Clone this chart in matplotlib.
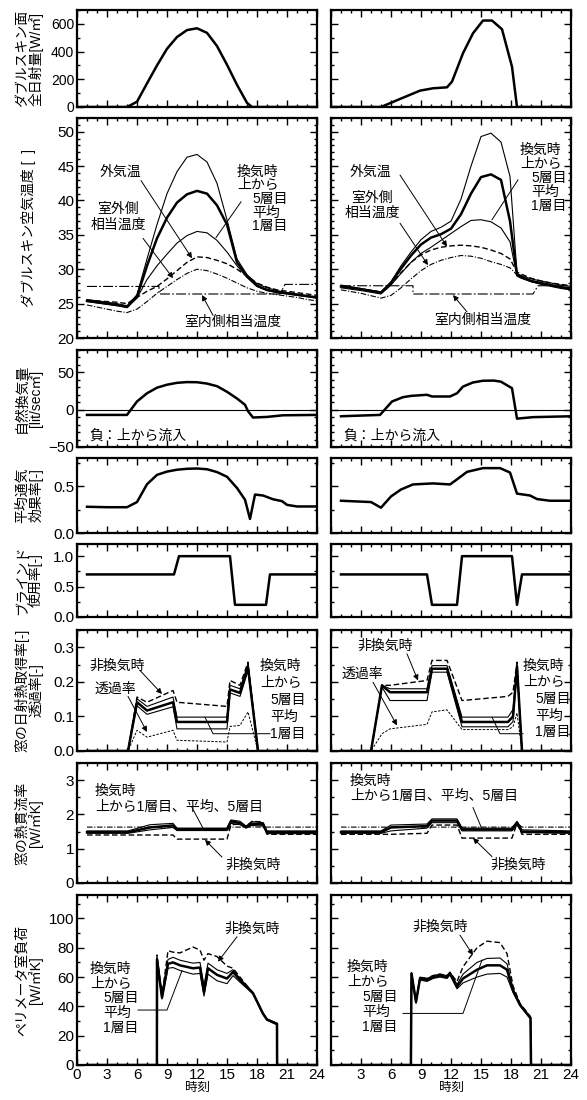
import matplotlib
matplotlib.use("Agg")
import matplotlib.pyplot as plt
from matplotlib.ticker import MultipleLocator

plt.rcParams['font.family'] = ['Liberation Sans', 'Noto Sans CJK JP']

# ---------------- data (hour, value) ----------------
# row 1 : solar radiation on double skin
sol_L_t = [0, 5, 6, 7, 8, 9, 10, 11, 12, 13, 14, 15, 16, 17, 17.5, 24]
sol_L = [0, 0, 38, 170, 300, 420, 505, 555, 568, 535, 440, 305, 160, 30, 0, 0]
sol_R_t = [0, 5, 6.9, 8.9, 10.2, 11.6, 12.1, 13.2, 14.2, 15.2, 16.1, 17.1, 18.1, 18.6, 24]
sol_R = [0, 0, 58, 118, 135, 142, 183, 388, 532, 624, 624, 561, 291, 0, 0]

# row 2 : air temperature in double skin
tmp_L_t = list(range(1, 25))
tmp_L_top = [25.6, 25.4, 25.2, 25.0, 24.7, 26.3, 31.5, 36.5, 41.0, 44.2, 46.3, 46.7,
             45.6, 42.5, 37.2, 31.5, 29.2, 27.9, 27.3, 26.9, 26.6, 26.4, 26.1, 25.9]
tmp_L_avg = [25.4, 25.2, 25.0, 24.8, 24.5, 26.0, 30.5, 34.5, 37.5, 39.7, 40.9, 41.4,
             41.0, 39.3, 36.5, 31.0, 29.0, 27.6, 27.0, 26.7, 26.5, 26.3, 26.1, 25.9]
tmp_L_low = [25.3, 25.1, 24.9, 24.7, 24.5, 25.8, 28.5, 30.5, 32.2, 33.8, 34.9, 35.5,
             35.3, 34.2, 32.5, 30.5, 28.8, 27.5, 26.9, 26.6, 26.4, 26.2, 26.0, 25.8]
tmp_L_out = [25.5, 25.4, 25.3, 25.2, 25.0, 25.9, 26.8, 27.5, 28.6, 29.8, 31.0, 31.8,
             31.7, 31.3, 30.8, 30.0, 29.0, 28.0, 27.4, 27.0, 26.8, 26.6, 26.4, 26.2]
tmp_L_sol = [24.8, 24.5, 24.2, 23.9, 23.7, 24.2, 25.3, 26.5, 27.5, 28.5, 29.4, 30.0,
             29.8, 29.3, 28.7, 28.0, 27.3, 26.8, 26.5, 26.3, 26.1, 25.9, 25.6, 25.4]
tin_L_t = [1, 8.2, 8.2, 20.3, 20.8, 24]
tin_L = [27.5, 27.5, 26.4, 26.4, 27.8, 27.8]

tmp_R_t = [1, 3, 5, 6, 7, 8, 9, 10, 11, 12, 13, 14, 15, 16, 17, 17.9, 18.6, 19, 20, 21, 22, 23, 24]
tmp_R_top = [27.7, 27.2, 26.7, 28.2, 30.5, 32.5, 34.3, 35.5, 36.1, 37.0, 40.2, 45.0,
             49.3, 49.8, 48.5, 43.5, 29.4, 29.1, 28.6, 28.3, 28.0, 27.7, 27.5]
tmp_R_avg = [27.5, 27.1, 26.6, 28.0, 30.1, 32.0, 33.6, 34.6, 35.1, 35.9, 38.0, 41.0,
             43.4, 43.8, 43.0, 37.0, 29.2, 28.9, 28.3, 28.0, 27.7, 27.4, 27.2]
tmp_R_low = [27.3, 26.9, 26.4, 27.7, 29.4, 31.0, 32.3, 33.2, 34.2, 35.2, 36.2, 37.1,
             37.2, 36.9, 36.0, 34.0, 29.0, 28.7, 28.2, 27.8, 27.5, 27.2, 27.0]
tmp_R_out = [27.5, 27.1, 26.7, 27.8, 29.5, 31.0, 32.1, 32.8, 33.2, 33.4, 33.5, 33.4,
             33.2, 32.8, 32.3, 31.5, 29.6, 29.3, 28.7, 28.3, 28.0, 27.8, 27.6]
tmp_R_sol = [27.0, 26.5, 25.8, 26.2, 27.3, 28.6, 29.8, 30.7, 31.3, 31.7, 32.0, 31.9,
             31.6, 31.1, 30.7, 30.2, 29.2, 28.8, 28.2, 27.9, 27.6, 27.3, 27.0]
tin_R_t = [1, 8.2, 8.2, 20.2, 20.7, 24]
tin_R = [27.6, 27.6, 26.4, 26.4, 27.6, 27.6]

# row 3 : natural ventilation rate
vent_L_t = [1, 5, 6, 7, 8, 9, 10, 11, 12, 13, 14, 15, 16, 16.8, 17.1, 17.6, 19, 20.6, 24]
vent_L = [-7, -7, 11, 22, 29.5, 33.5, 36, 37, 36.8, 35, 31.5, 24, 15, 6.6, -2, -10.5, -9.7, -7.5, -7]
vent_R_t = [1, 4.9, 6.1, 7.2, 8, 9.6, 10.1, 11.9, 12.6, 13.2, 14.2, 15.2, 16.3, 17, 18.1, 18.6, 20.2, 24]
vent_R = [-8.8, -7, 11, 16.8, 18.5, 20, 17.7, 17.7, 22, 31, 36.5, 38.8, 39, 37.5, 28.8, -12, -10, -8.8]

# row 4 : mean ventilation efficiency
eff_L_t = [1, 3, 5, 6, 7, 8, 9, 10, 11, 12, 13, 14, 15, 16, 16.8, 17.3, 17.8, 18.6, 19.6, 20.5, 21, 22, 24]
eff_L = [0.28, 0.275, 0.275, 0.33, 0.52, 0.62, 0.655, 0.675, 0.685, 0.688, 0.68, 0.65,
         0.6, 0.48, 0.355, 0.15, 0.41, 0.4, 0.36, 0.34, 0.3, 0.283, 0.283]
eff_R_t = [1, 4, 5, 6, 7, 8.2, 10.2, 11.9, 12.6, 13.6, 15.2, 16.9, 17.9, 18.6, 19.9, 20.6, 21.9, 24]
eff_R = [0.344, 0.33, 0.27, 0.39, 0.464, 0.518, 0.529, 0.518, 0.572, 0.652, 0.692, 0.692,
         0.645, 0.42, 0.4, 0.362, 0.344, 0.344]

# row 5 : blind usage
bl_L_t = [1, 9.7, 10.2, 15.3, 15.8, 18.9, 19.3, 24]
bl_L = [0.7, 0.7, 1, 1, 0.2, 0.2, 0.7, 0.7]
bl_R_t = [1, 9.6, 10.1, 12.6, 13.1, 18.1, 18.6, 19.1, 24]
bl_R = [0.7, 0.7, 0.2, 0.2, 1, 1, 0.2, 0.7, 0.7]

# row 6 : solar heat gain / transmittance
sh_L_t = [1, 5.1, 6, 7, 9.6, 10, 15, 15.3, 16.3, 17.1, 18.1, 24]
sh_L_non = [0, 0, 0.156, 0.141, 0.175, 0.141, 0.129, 0.204, 0.19, 0.257, 0, 0]
sh_L_top = [0, 0, 0.151, 0.129, 0.156, 0.098, 0.098, 0.19, 0.18, 0.252, 0, 0]
sh_L_avg = [0, 0, 0.141, 0.117, 0.141, 0.084, 0.084, 0.178, 0.168, 0.242, 0, 0]
sh_L_low = [0, 0, 0.131, 0.106, 0.128, 0.064, 0.064, 0.168, 0.158, 0.232, 0, 0]
tr_L = [0, 0, 0.06, 0.04, 0.06, 0.031, 0.026, 0.071, 0.074, 0.113, 0, 0]
sh_R_t = [1, 4, 5.1, 5.9, 9.6, 10.1, 11.6, 13.1, 17.7, 18.2, 18.6, 19.1, 24]
sh_R_non = [0, 0, 0.19, 0.19, 0.204, 0.262, 0.262, 0.146, 0.158, 0.17, 0.257, 0, 0]
sh_R_top = [0, 0, 0.19, 0.18, 0.18, 0.247, 0.247, 0.098, 0.098, 0.12, 0.25, 0, 0]
sh_R_avg = [0, 0, 0.19, 0.17, 0.17, 0.238, 0.238, 0.084, 0.084, 0.1, 0.245, 0, 0]
sh_R_low = [0, 0, 0.185, 0.146, 0.146, 0.228, 0.228, 0.07, 0.07, 0.085, 0.235, 0, 0]
tr_R = [0, 0, 0.05, 0.064, 0.077, 0.113, 0.119, 0.062, 0.062, 0.07, 0.11, 0, 0]

# row 7 : window U-value
u_L_t = [1, 5.1, 7.3, 9.6, 10, 15, 15.4, 16.3, 16.9, 17.5, 18.6, 19, 24]
u_L_top = [1.52, 1.52, 1.7, 1.74, 1.6, 1.6, 1.84, 1.8, 1.66, 1.79, 1.76, 1.52, 1.52]
u_L_avg = [1.48, 1.48, 1.62, 1.68, 1.57, 1.57, 1.8, 1.75, 1.63, 1.73, 1.71, 1.48, 1.48]
u_L_low = [1.45, 1.45, 1.55, 1.62, 1.53, 1.53, 1.74, 1.7, 1.6, 1.68, 1.66, 1.44, 1.44]
u_L_non = [1.4, 1.4, 1.4, 1.4, 1.28, 1.28, 1.7, 1.72, 1.65, 1.8, 1.78, 1.42, 1.42]
u_L_dd = [1.63, 1.63, 1.63, 1.63, 1.55, 1.55, 1.63, 1.63, 1.63, 1.63, 1.63, 1.63, 1.63]
u_R_t = [1, 5, 6, 9.6, 10.1, 12.6, 13.1, 18.1, 18.6, 19.1, 24]
u_R_top = [1.52, 1.52, 1.69, 1.72, 1.87, 1.87, 1.6, 1.6, 1.8, 1.55, 1.52]
u_R_avg = [1.48, 1.48, 1.62, 1.66, 1.82, 1.82, 1.56, 1.56, 1.76, 1.5, 1.48]
u_R_low = [1.45, 1.45, 1.52, 1.6, 1.76, 1.76, 1.52, 1.52, 1.7, 1.47, 1.45]
u_R_non = [1.42, 1.42, 1.42, 1.45, 1.69, 1.69, 1.31, 1.31, 1.74, 1.42, 1.42]
u_R_dd = [1.63, 1.63, 1.63, 1.63, 1.63, 1.63, 1.63, 1.63, 1.75, 1.63, 1.63]

# row 8 : perimeter load
pl_L_t = [1, 7.99, 8.0, 8.5, 9.1, 9.6, 10.3, 11.6, 12.3, 12.7, 13.1, 14.0, 15.0, 15.6,
          16.3, 17.6, 18.6, 19.0, 20.0, 20.01, 24]
pl_L_avg = [0, 0, 72, 46, 69, 70, 68, 66, 66.5, 50, 66, 61.5, 59, 63.5, 58, 49, 35, 31, 28, 0, 0]
pl_L_top = [0, 0, 73, 48, 72, 73.5, 71.5, 69.5, 70, 54, 69.5, 65, 62.5, 65, 59, 49.5, 35.5, 31.5, 28.5, 0, 0]
pl_L_low = [0, 0, 70, 45, 66, 66.5, 64.5, 62, 62.5, 47, 62, 57.5, 55.5, 61, 56.5, 48.5, 34.5, 30.5, 27.5, 0, 0]
pl_L_non = [0, 0, 75, 47.5, 78, 77, 76.5, 80.5, 78.4, 71.5, 76, 74, 67.5, 66, 60, 49, 35.2, 31, 28.4, 0, 0]
pl_R_t = [1, 7.99, 8.05, 8.5, 8.9, 9.6, 10.2, 10.9, 11.6, 11.9, 12.6, 13.2, 14.6, 15.6,
          16.9, 17.6, 18.2, 18.9, 19.95, 20.0, 24]
pl_R_avg = [0, 0, 62.5, 43, 59, 58, 60, 61, 60, 62.5, 53.4, 59, 65, 68, 68, 65, 51, 41, 32, 0, 0]
pl_R_top = [0, 0, 63, 44, 60, 59, 61, 62, 61, 63.5, 55, 62, 70, 72.7, 73, 69, 52, 41.5, 32.5, 0, 0]
pl_R_low = [0, 0, 62, 42, 58, 57, 59, 60, 59, 61.5, 52, 56, 60, 62, 62.5, 60, 49.5, 40.5, 31.5, 0, 0]
pl_R_non = [0, 0, 62.5, 43.5, 60, 59, 61, 62, 61, 63, 57, 67, 80, 84.5, 83.5, 76, 54, 42, 33, 0, 0]

ylabels = ["ダブルスキン面\n全日射量[W/㎡]", "ダブルスキン空気温度 [  ]",
           "自然換気量\n[lit/sec㎡]", "平均通気\n効果率[-]", "ブラインド\n使用率[-]",
           "窓の日射熱取得率[-]\n透過率[-]", "窓の熱貫流率\n[W/㎡K]", "ペリメータ室負荷\n[W/㎡K]"]
ylims = [(0, 700), (20, 52), (-50, 80), (0, 0.8), (0, 1.2), (0, 0.35), (0, 3.5), (0, 116)]
ymaj = [200, 5, 50, 0.5, 0.5, 0.1, 1, 20]
ymin = [100, 1, 10, 0.25, 0.25, 0.05, 0.5, 10]
xticks = [0, 3, 6, 9, 12, 15, 18, 21, 24]

# ---------------- layout ----------------
W, H = 587, 1100
fig = plt.figure(figsize=(W / 100, H / 100), dpi=100)
rows = [(10, 107), (118, 338), (350, 447), (458, 533), (544, 617), (630, 751), (763, 883), (895, 1065)]
cols = [(77, 317), (331, 571)]

THICK = dict(color='k', lw=1.8)
THIN = dict(color='k', lw=0.8)
DASH = dict(color='k', lw=1.0, dashes=(4, 2))
FDASH = dict(color='k', lw=0.7, dashes=(2.5, 1.5))
DDOT = dict(color='k', lw=0.8, dashes=(5, 1.5, 1, 1.5))
LDDOT = dict(color='k', lw=0.8, dashes=(9, 2, 1.5, 2))
FS = 10
ARW = dict(arrowstyle='-|>', color='k', lw=0.7, mutation_scale=8, shrinkA=0, shrinkB=0)

axes = {}
for r, (top, bot) in enumerate(rows):
    for c, (x0, x1) in enumerate(cols):
        ax = fig.add_axes([x0 / W, 1 - bot / H, (x1 - x0) / W, (bot - top) / H])
        ax.set_xlim(0, 24)
        ax.set_ylim(*ylims[r])
        ax.xaxis.set_major_locator(MultipleLocator(3))
        ax.xaxis.set_minor_locator(MultipleLocator(1))
        ax.yaxis.set_major_locator(MultipleLocator(ymaj[r]))
        ax.yaxis.set_minor_locator(MultipleLocator(ymin[r]))
        ax.tick_params(which='both', direction='in', top=True, right=True, width=1)
        ax.tick_params(which='major', length=5, labelsize=10 if r == 0 else 11, pad=2)
        ax.tick_params(which='minor', length=2.5)
        for s in ax.spines.values():
            s.set_linewidth(1.6)
        if c == 1:
            ax.set_yticklabels([])
        else:
            ax.text(-0.2, 0.5, ylabels[r], transform=ax.transAxes, rotation=90,
                    ha='center', va='center', ma='center', fontsize=10, linespacing=0.95)
        if r < 7:
            ax.set_xticklabels([])
        else:
            ax.set_xticks(xticks)
            ax.set_xticklabels([str(v) for v in xticks] if c == 0 else [''] + [str(v) for v in xticks[1:]])
            ax.set_xlabel("時刻", fontsize=9, labelpad=0)
        axes[(r, c)] = ax


def vent_block(ax, x, y, step, indent):
    for i, s in enumerate(['換気時', '上から', '5層目', '平均', '1層目']):
        dx = 0 if i < 2 else indent
        ax.annotate(s, (x, y), xytext=(dx * 0.72, -i * step * 0.72), textcoords='offset points',
                    ha='left', va='center', fontsize=FS)


def arrow(ax, start, end):
    ax.annotate('', xy=end, xytext=start, arrowprops=ARW)


# row 1
axes[(0, 0)].plot(sol_L_t, sol_L, **THICK)
axes[(0, 1)].plot(sol_R_t, sol_R, **THICK)

# row 2
ax = axes[(1, 0)]
ax.plot(tmp_L_t, tmp_L_top, **THIN)
ax.plot(tmp_L_t, tmp_L_avg, **THICK)
ax.plot(tmp_L_t, tmp_L_low, **THIN)
ax.plot(tmp_L_t, tmp_L_out, **DASH)
ax.plot(tmp_L_t, tmp_L_sol, **DDOT)
ax.plot(tin_L_t, tin_L, **LDDOT)
ax.text(4.3, 44.2, "外気温", ha='center', va='center', fontsize=FS)
arrow(ax, (6.4, 42.9), (11.5, 31.6))
ax.text(4.1, 37.6, "室外側\n相当温度", ha='center', va='center', fontsize=FS, linespacing=1.1)
arrow(ax, (6.6, 34.5), (9.6, 28.7))
ax.text(15.6, 22.4, "室内側相当温度", ha='center', va='center', fontsize=FS)
arrow(ax, (13.6, 23.3), (12.5, 26.25))
vent_block(ax, 16.0, 44.2, 13.7, 15)
ax.plot([16.4, 13.9], [39.8, 34.6], **dict(color='k', lw=0.7))

ax = axes[(1, 1)]
ax.plot(tmp_R_t, tmp_R_top, **THIN)
ax.plot(tmp_R_t, tmp_R_avg, **THICK)
ax.plot(tmp_R_t, tmp_R_low, **THIN)
ax.plot(tmp_R_t, tmp_R_out, **DASH)
ax.plot(tmp_R_t, tmp_R_sol, **DDOT)
ax.plot(tin_R_t, tin_R, **LDDOT)
ax.text(3.9, 44.2, "外気温", ha='center', va='center', fontsize=FS)
arrow(ax, (6.9, 43.7), (11.6, 33.3))
ax.text(4.1, 39.3, "室外側\n相当温度", ha='center', va='center', fontsize=FS, linespacing=1.1)
arrow(ax, (6.9, 36.7), (9.7, 30.6))
ax.text(15.2, 22.6, "室内側相当温度", ha='center', va='center', fontsize=FS)
arrow(ax, (13.6, 23.8), (12.2, 26.25))
vent_block(ax, 18.9, 47.3, 14, 11)
ax.plot([18.7, 16.1], [43.0, 37.2], color='k', lw=0.7)

# row 3
for c, (t, v) in enumerate([(vent_L_t, vent_L), (vent_R_t, vent_R)]):
    ax = axes[(2, c)]
    ax.axhline(0, color='k', lw=0.8)
    ax.plot(t, v, **THICK)
    ax.text(1.25, -35, "負：上から流入", ha='left', va='center', fontsize=FS)

# row 4, 5
axes[(3, 0)].plot(eff_L_t, eff_L, **THICK)
axes[(3, 1)].plot(eff_R_t, eff_R, **THICK)
axes[(4, 0)].plot(bl_L_t, bl_L, **THICK)
axes[(4, 1)].plot(bl_R_t, bl_R, **THICK)

# row 6
ax = axes[(5, 0)]
ax.plot(sh_L_t, sh_L_non, **DASH)
ax.plot(sh_L_t, sh_L_top, **THIN)
ax.plot(sh_L_t, sh_L_avg, **THICK)
ax.plot(sh_L_t, sh_L_low, **THIN)
ax.plot(sh_L_t, tr_L, **FDASH)
ax.text(4.0, 0.247, "非換気時", ha='center', va='center', fontsize=FS)
arrow(ax, (6.3, 0.233), (8.5, 0.165))
ax.text(3.8, 0.18, "透過率", ha='center', va='center', fontsize=FS)
arrow(ax, (5.1, 0.158), (7.0, 0.055))
vent_block(ax, 18.3, 0.247, 17, 10)
ax.plot([19.3, 13.6, 12.8], [0.05, 0.05, 0.098], color='k', lw=0.7)

ax = axes[(5, 1)]
ax.plot(sh_R_t, sh_R_non, **DASH)
ax.plot(sh_R_t, sh_R_top, **THIN)
ax.plot(sh_R_t, sh_R_avg, **THICK)
ax.plot(sh_R_t, sh_R_low, **THIN)
ax.plot(sh_R_t, tr_R, **FDASH)
ax.text(5.4, 0.305, "非換気時", ha='center', va='center', fontsize=FS)
arrow(ax, (7.6, 0.281), (8.7, 0.204))
ax.text(3.1, 0.223, "透過率", ha='center', va='center', fontsize=FS)
arrow(ax, (4.2, 0.199), (6.6, 0.074))
vent_block(ax, 19.2, 0.247, 16.7, 12)
ax.plot([19.2, 16.9, 16.1], [0.05, 0.05, 0.098], color='k', lw=0.7)

# row 7
ax = axes[(6, 0)]
ax.plot(u_L_t, u_L_dd, **DDOT)
ax.plot(u_L_t, u_L_non, **DASH)
ax.plot(u_L_t, u_L_top, **THIN)
ax.plot(u_L_t, u_L_avg, **THICK)
ax.plot(u_L_t, u_L_low, **THIN)
ax.text(1.8, 2.46, "換気時\n上から1層目、平均、5層目", ha='left', va='center', fontsize=FS, linespacing=1.15)
ax.plot([11.5, 12.6], [2.2, 1.6], color='k', lw=0.7)
ax.text(17.6, 0.53, "非換気時", ha='center', va='center', fontsize=FS)
arrow(ax, (14.5, 0.755), (12.8, 1.26))

ax = axes[(6, 1)]
ax.plot(u_R_t, u_R_dd, **DDOT)
ax.plot(u_R_t, u_R_non, **DASH)
ax.plot(u_R_t, u_R_top, **THIN)
ax.plot(u_R_t, u_R_avg, **THICK)
ax.plot(u_R_t, u_R_low, **THIN)
ax.text(1.9, 2.76, "換気時\n上から1層目、平均、5層目", ha='left', va='center', fontsize=FS, linespacing=1.15)
ax.plot([14.2, 15.1], [2.2, 1.57], color='k', lw=0.7)
ax.text(18.7, 0.53, "非換気時", ha='center', va='center', fontsize=FS)
arrow(ax, (16.1, 0.77), (14.2, 1.31))

# row 8
ax = axes[(7, 0)]
ax.plot(pl_L_t, pl_L_non, **DASH)
ax.plot(pl_L_t, pl_L_top, **THIN)
ax.plot(pl_L_t, pl_L_avg, **THICK)
ax.plot(pl_L_t, pl_L_low, **THIN)
vent_block(ax, 1.3, 65.9, 15, 13)
ax.plot([6.1, 9.0, 10.5], [37.5, 37.5, 64.3], color='k', lw=0.7)
ax.text(17.5, 93.2, "非換気時", ha='center', va='center', fontsize=FS)
arrow(ax, (16.0, 87.5), (14.1, 70.5))

ax = axes[(7, 1)]
ax.plot(pl_R_t, pl_R_non, **DASH)
ax.plot(pl_R_t, pl_R_top, **THIN)
ax.plot(pl_R_t, pl_R_avg, **THICK)
ax.plot(pl_R_t, pl_R_low, **THIN)
vent_block(ax, 1.6, 66.6, 15, 15)
ax.plot([7.2, 13.2, 15.1], [35.2, 35.2, 71.6], color='k', lw=0.7)
ax.text(10.9, 94.3, "非換気時", ha='center', va='center', fontsize=FS)
arrow(ax, (12.9, 88.6), (14.2, 75))

fig.savefig("out.png", dpi=100)
